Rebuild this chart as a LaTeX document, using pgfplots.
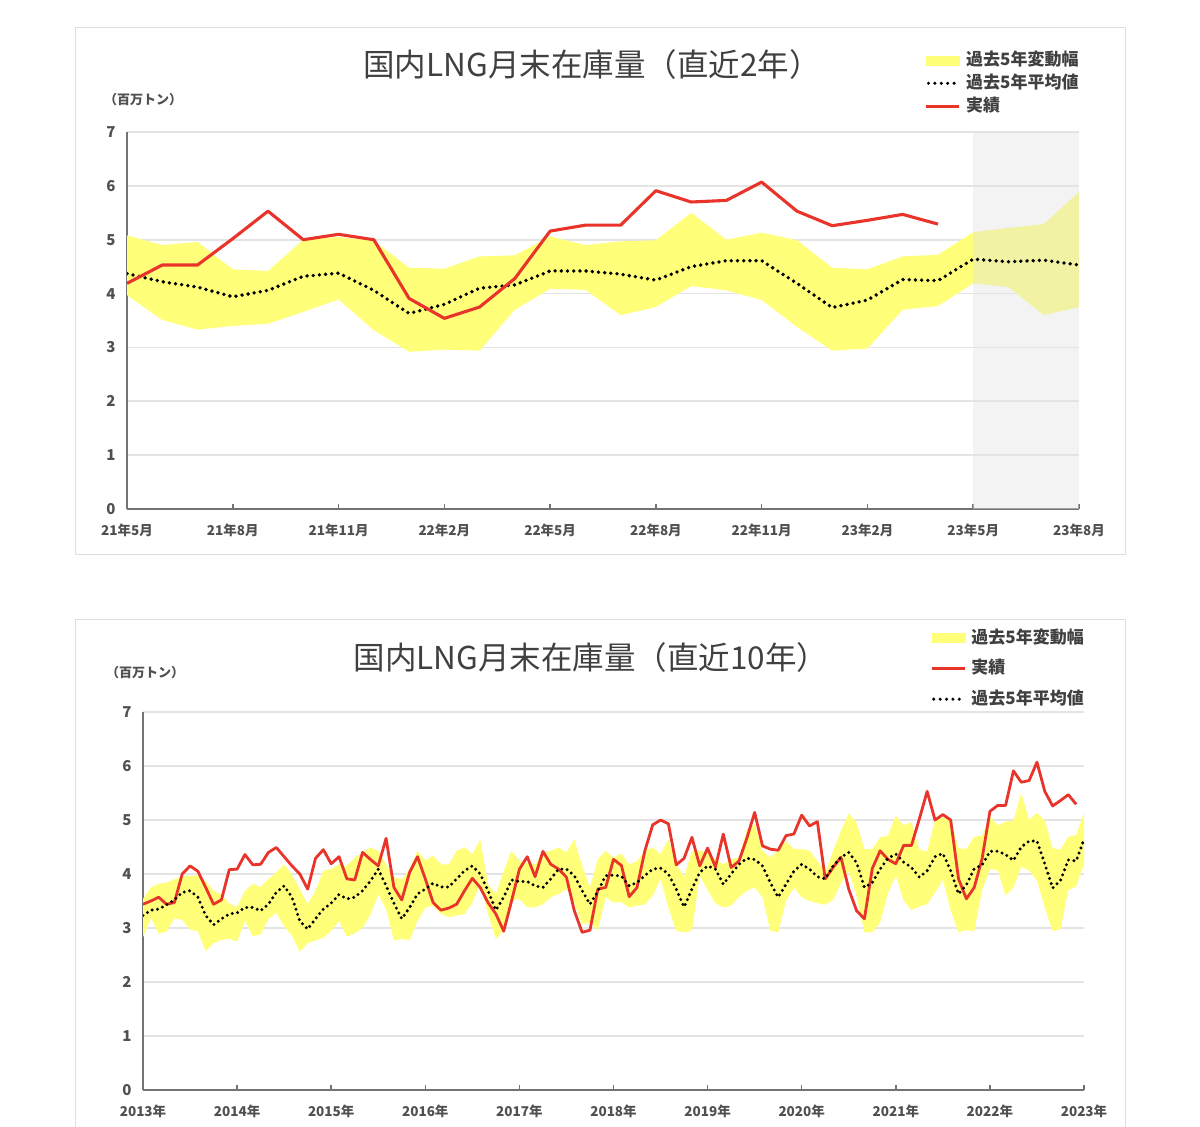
\documentclass[border=0pt]{standalone}
\usepackage{fontspec}
\setmainfont{Noto Sans CJK JP}
\usepackage{pgfplots}
\pgfplotsset{compat=1.18}
\usepackage{pgfplotstable}
\usepgfplotslibrary{fillbetween}
\definecolor{bandY}{RGB}{255,255,122}
\definecolor{redL}{RGB}{232,52,42}
\definecolor{gridC}{RGB}{228,228,228}
\definecolor{axisC}{RGB}{115,115,115}
\definecolor{txtC}{RGB}{64,64,64}
\definecolor{tickC}{RGB}{80,80,80}
\definecolor{frameC}{RGB}{222,222,222}
\definecolor{shadeC}{RGB}{226,226,226}

% top chart: months from 21/5 (0) to 23/8 (27)
\pgfplotstableread{
i u l m r
0 5.08 3.97 4.37 4.19
1 4.90 3.51 4.22 4.53
2 4.96 3.33 4.12 4.53
3 4.45 3.40 3.94 5.02
4 4.42 3.44 4.06 5.53
5 5.00 3.66 4.32 5.00
6 5.05 3.89 4.38 5.10
7 4.98 3.32 4.06 5.00
8 4.48 2.92 3.63 3.91
9 4.46 2.96 3.80 3.54
10 4.69 2.94 4.10 3.75
11 4.71 3.70 4.16 4.28
12 5.06 4.09 4.42 5.16
13 4.90 4.07 4.42 5.27
14 4.97 3.60 4.36 5.27
15 4.99 3.75 4.25 5.91
16 5.50 4.14 4.50 5.70
17 5.00 4.06 4.61 5.73
18 5.13 3.88 4.61 6.07
19 4.99 3.38 4.19 5.53
20 4.48 2.94 3.74 5.26
21 4.45 2.98 3.88 5.36
22 4.69 3.70 4.26 5.47
23 4.72 3.77 4.24 5.29
24 5.14 4.19 4.64 nan
25 5.22 4.12 4.59 nan
26 5.29 3.60 4.62 nan
27 5.89 3.75 4.53 nan
}\topdata

% bottom chart: months from 13/5 (0) to 23/5 (120)
\pgfplotstableread{
i u l m r
0 3.54 2.83 3.23 3.44
1 3.75 3.18 3.33 3.50
2 3.82 2.90 3.35 3.57
3 3.84 2.93 3.43 3.44
4 3.90 3.18 3.52 3.47
5 3.95 3.15 3.66 4.00
6 3.97 2.97 3.69 4.15
7 3.97 2.94 3.57 4.05
8 3.87 2.57 3.23 3.75
9 3.69 2.72 3.06 3.44
10 3.62 2.78 3.17 3.52
11 3.45 2.80 3.26 4.08
12 3.39 2.75 3.28 4.09
13 3.69 3.13 3.38 4.36
14 3.82 2.85 3.38 4.17
15 3.76 2.88 3.32 4.18
16 3.91 3.17 3.44 4.40
17 4.03 3.28 3.66 4.49
18 4.18 3.03 3.78 4.32
19 3.98 2.86 3.57 4.15
20 3.72 2.56 3.13 4.00
21 3.44 2.72 2.98 3.72
22 3.69 2.77 3.17 4.29
23 4.06 2.82 3.35 4.45
24 4.09 2.95 3.46 4.19
25 4.18 3.13 3.62 4.32
26 4.15 2.84 3.54 3.91
27 4.30 2.90 3.57 3.89
28 4.40 3.00 3.69 4.40
29 4.49 3.25 3.87 4.27
30 4.43 3.62 4.09 4.15
31 4.18 3.35 3.78 4.66
32 3.94 2.77 3.46 3.75
33 3.90 2.80 3.17 3.52
34 4.10 2.77 3.38 4.03
35 4.43 3.13 3.63 4.32
36 4.25 3.38 3.72 3.91
37 4.34 3.41 3.83 3.47
38 4.18 3.26 3.76 3.33
39 4.18 3.20 3.76 3.37
40 4.43 3.23 3.91 3.44
41 4.49 3.26 4.06 3.69
42 4.37 3.47 4.15 3.92
43 4.64 3.81 4.00 3.75
44 3.81 3.26 3.69 3.47
45 3.63 2.80 3.33 3.26
46 4.06 2.95 3.57 2.94
47 4.43 3.50 3.89 3.50
48 4.24 3.54 3.86 4.09
49 4.21 3.38 3.86 4.32
50 4.18 3.38 3.78 3.95
51 4.40 3.44 3.75 4.42
52 4.43 3.57 3.91 4.18
53 4.49 3.63 4.09 4.09
54 4.40 3.72 4.09 3.94
55 4.64 3.47 3.97 3.32
56 4.15 3.07 3.69 2.92
57 3.75 3.10 3.44 2.96
58 4.27 2.95 3.68 3.72
59 4.43 3.57 3.97 3.75
60 4.30 3.47 3.98 4.27
61 4.38 3.48 3.96 4.16
62 4.18 3.38 3.78 3.58
63 4.24 3.41 3.84 3.75
64 4.43 3.44 3.97 4.43
65 4.49 3.60 4.09 4.91
66 4.37 3.91 4.11 5.00
67 4.64 3.38 4.00 4.93
68 4.18 2.95 3.72 4.17
69 3.95 2.92 3.39 4.29
70 4.43 2.95 3.72 4.68
71 4.43 3.97 4.03 4.15
72 4.40 3.70 4.15 4.48
73 4.27 3.46 4.09 4.13
74 4.18 3.38 3.81 4.74
75 4.27 3.41 4.00 4.12
76 4.31 3.57 4.18 4.24
77 4.83 3.69 4.29 4.66
78 4.92 3.75 4.27 5.14
79 4.43 3.57 4.15 4.52
80 4.31 2.95 3.84 4.46
81 4.43 2.92 3.57 4.44
82 4.61 3.50 3.81 4.71
83 4.46 3.75 4.05 4.74
84 4.46 3.57 4.18 5.09
85 4.43 3.50 4.09 4.89
86 4.24 3.46 3.95 4.97
87 4.03 3.43 3.91 3.91
88 4.43 3.52 4.15 4.12
89 4.80 3.83 4.31 4.31
90 5.12 4.05 4.40 3.72
91 4.95 3.60 4.21 3.32
92 4.46 2.92 3.75 3.17
93 4.46 2.92 3.84 4.10
94 4.68 3.10 4.09 4.43
95 4.71 3.65 4.29 4.27
96 5.08 3.97 4.37 4.19
97 4.90 3.51 4.22 4.53
98 4.96 3.33 4.12 4.53
99 4.45 3.40 3.94 5.02
100 4.42 3.44 4.06 5.53
101 5.00 3.66 4.32 5.00
102 5.05 3.89 4.38 5.10
103 4.98 3.32 4.06 5.00
104 4.48 2.92 3.63 3.91
105 4.46 2.96 3.80 3.54
106 4.69 2.94 4.10 3.75
107 4.71 3.70 4.16 4.28
108 5.06 4.09 4.42 5.16
109 4.90 4.07 4.42 5.27
110 4.97 3.60 4.36 5.27
111 4.99 3.75 4.25 5.91
112 5.50 4.14 4.50 5.70
113 5.00 4.06 4.61 5.73
114 5.13 3.88 4.61 6.07
115 4.99 3.38 4.19 5.53
116 4.48 2.94 3.74 5.26
117 4.45 2.98 3.88 5.36
118 4.69 3.70 4.26 5.47
119 4.72 3.77 4.24 5.29
120 5.14 4.19 4.64 nan
}\tendata

\pgfplotsset{
  lngaxis/.style={
    scale only axis, anchor=south west,
    ymin=0, ymax=7, ytick={0,...,7},
    axis x line*=bottom, axis y line*=left,
    axis line style={-, draw=axisC, line width=2pt},
    ymajorgrids, grid style={draw=gridC, line width=1.6pt},
    tick align=inside, major tick length=5pt,
    xtick style={draw=axisC, line width=1.5pt},
    ytick style={draw=none},
    tick label style={font=\fontsize{13.5}{15}\selectfont\bfseries, text=tickC},
    /pgf/number format/assume math mode=true,
    yticklabel style={xshift=-8pt, font=\fontsize{15}{16}\selectfont\bfseries},
    xticklabel style={yshift=-11pt},
    legend cell align=left,
  },
  bandimg/.style={legend image code/.code={\fill[bandY] (0pt,-4.5pt) rectangle (33pt,4.5pt);}},
  redimg/.style={legend image code/.code={\draw[redL, line width=3pt] (0pt,0pt) -- (33pt,0pt);}},
  dotimg/.style={legend image code/.code={\draw[black, line width=3.4pt, line cap=round, dash pattern=on 0pt off 6.4pt] (2pt,0pt) -- (33pt,0pt);}},
  dotline/.style={black, line width=3.8pt, line cap=round, dash pattern=on 0pt off 6.2pt},
  redline/.style={redL, line width=3.1pt, line join=round},
}

\begin{document}
\begin{tikzpicture}[x=1pt,y=1pt]
% frames
\draw[frameC, line width=1pt] (75,1099) rectangle (1125,572);
\draw[frameC, line width=1pt] (75,0) -- (75,507) -- (1125,507) -- (1125,0);
% titles and units
\node[text=txtC, font=\fontsize{31.5}{34}\selectfont] at (592,1062) {国内LNG月末在庫量（直近2年）};
\node[text=txtC, font=\fontsize{31.5}{34}\selectfont] at (591,469) {国内LNG月末在庫量（直近10年）};
\node[text=tickC, font=\fontsize{13}{14}\selectfont\bfseries] at (143,1027) {（百万トン）};
\node[text=tickC, font=\fontsize{13}{14}\selectfont\bfseries] at (145,454) {（百万トン）};

% ---------- top chart ----------
\begin{axis}[lngaxis, at={(127pt,618pt)}, width=952pt, height=377pt,
  xmin=0, xmax=27, xtick={0,3,...,27},
  xticklabels={21年5月,21年8月,21年11月,22年2月,22年5月,22年8月,22年11月,23年2月,23年5月,23年8月},
  legend style={at={(rel axis cs:0.838,1.212)}, anchor=north west, draw=none, fill=none,
    inner sep=0pt, row sep=7pt, font=\fontsize{17}{18}\selectfont\bfseries, text=txtC,
    nodes={inner sep=0pt, text height=13pt, text depth=3pt},
    /tikz/every odd column/.append style={column sep=5pt}},
]
\addplot[name path=TU, draw=none, forget plot] table[x=i,y=u]{\topdata};
\addplot[name path=TL, draw=none, forget plot] table[x=i,y=l]{\topdata};
\addplot[fill=bandY, draw=none, forget plot] fill between[of=TU and TL];
\addplot[fill=shadeC, fill opacity=0.42, draw=none, forget plot] coordinates {(24,7) (27,7)} \closedcycle;
\addplot[dotline, forget plot] table[x=i,y=m]{\topdata};
\addplot[redline, forget plot] table[x=i,y=r]{\topdata};
\addlegendimage{bandimg}
\addlegendentry{過去5年変動幅}
\addlegendimage{dotimg}
\addlegendentry{過去5年平均値}
\addlegendimage{redimg}
\addlegendentry{実績}
\end{axis}

% ---------- bottom chart ----------
\begin{axis}[lngaxis, at={(143pt,37pt)}, width=941pt, height=378pt,
  xmin=0, xmax=120, xtick={0,12,...,120},
  xticklabels={2013年,2014年,2015年,2016年,2017年,2018年,2019年,2020年,2021年,2022年,2023年},
  legend style={at={(rel axis cs:0.8364,1.217)}, anchor=north west, draw=none, fill=none,
    inner sep=0pt, row sep=14.5pt, font=\fontsize{17}{18}\selectfont\bfseries, text=txtC,
    nodes={inner sep=0pt, text height=13pt, text depth=3pt},
    /tikz/every odd column/.append style={column sep=5pt}},
]
\addplot[name path=BU, draw=none, forget plot] table[x=i,y=u]{\tendata};
\addplot[name path=BL, draw=none, forget plot] table[x=i,y=l]{\tendata};
\addplot[fill=bandY, draw=none, forget plot] fill between[of=BU and BL];
\addplot[redline, line width=2.8pt, forget plot] table[x=i,y=r]{\tendata};
\addplot[dotline, line width=3.3pt, dash pattern=on 0pt off 5.4pt, forget plot] table[x=i,y=m]{\tendata};
\addlegendimage{bandimg}
\addlegendentry{過去5年変動幅}
\addlegendimage{redimg}
\addlegendentry{実績}
\addlegendimage{dotimg}
\addlegendentry{過去5年平均値}
\end{axis}
\pgfresetboundingbox
\path[use as bounding box] (0,0) rectangle (1200,1127);
\end{tikzpicture}
\end{document}
